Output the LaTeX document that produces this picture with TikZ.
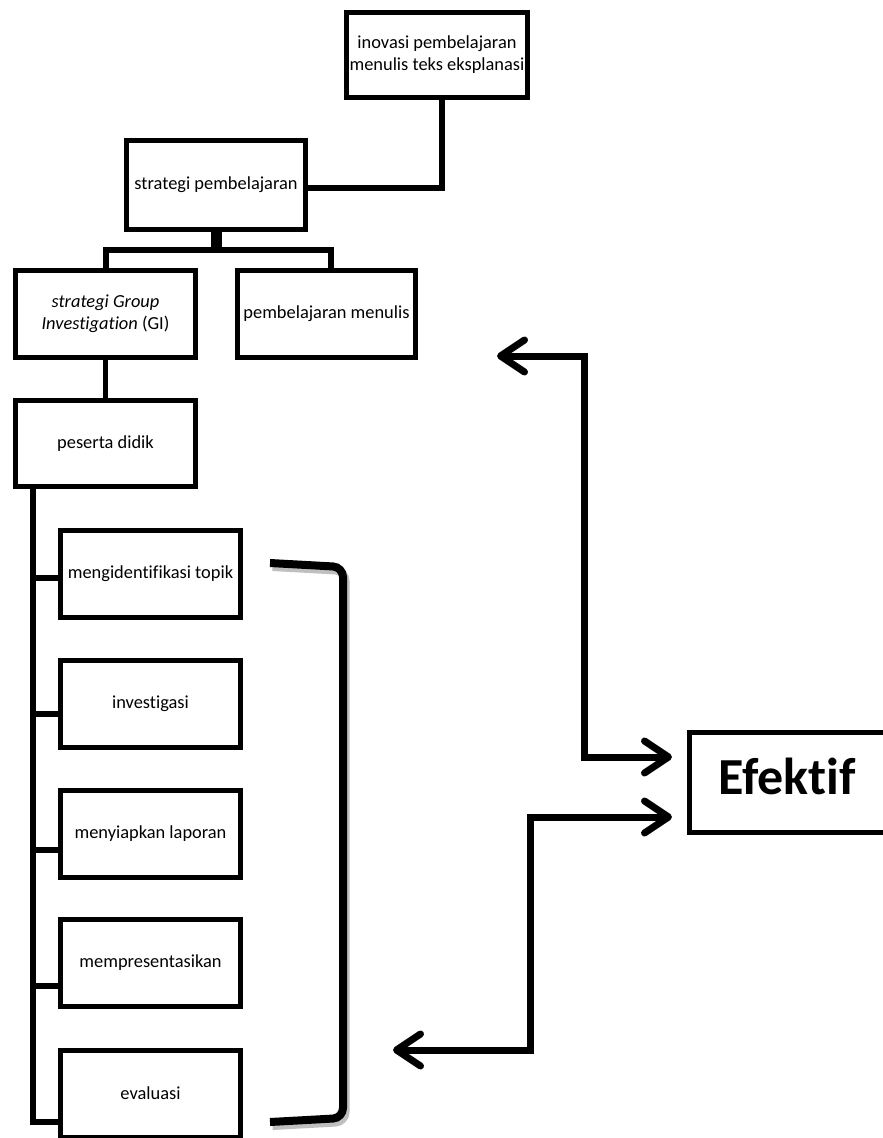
\documentclass[tikz,border=0pt]{standalone}
\usepackage{fontspec}
\setmainfont{Carlito}[Ligatures=NoCommon]
\usetikzlibrary{arrows.meta}
\begin{document}
\begin{tikzpicture}[x=1pt,y=-1pt,
  box/.style={draw, line width=5pt, inner sep=0pt, align=center,
    font=\fontsize{18.4}{22}\selectfont},
  conn/.style={line width=5.5pt},
  stem/.style={line width=11pt},
  arr/.style={line width=7pt, arrows={Straight Barb[length=24pt,width=32pt,round]-Straight Barb[length=24pt,width=32pt,round]}},
  brk/.style={line width=8pt, rounded corners=10pt},
]
\useasboundingbox (0,0) rectangle (883,1138);
\clip (0,0) rectangle (883,1138);
\fill[white] (0,0) rectangle (883,1138);

% boxes
\node[box, minimum width=181pt, minimum height=85pt] (inovasi) at (437,55) {inovasi pembelajaran\\menulis teks eksplanasi};
\node[box, minimum width=179pt, minimum height=89pt] (strategi) at (216,185) {strategi pembelajaran};
\node[box, minimum width=180pt, minimum height=87pt] (GI) at (105.5,314) {\textit{strategi Group}\\\textit{Investigation} (GI)};
\node[box, minimum width=178pt, minimum height=87pt] (menulis) at (326.5,314) {pembelajaran menulis};
\node[box, minimum width=180pt, minimum height=86pt] (peserta) at (105.5,443.5) {peserta didik};

\node[box, minimum width=180pt, minimum height=87pt] (s1) at (150.5,574) {mengidentifikasi topik};
\node[box, minimum width=180pt, minimum height=87pt] (s2) at (150.5,703.5) {investigasi};
\node[box, minimum width=180pt, minimum height=87pt] (s3) at (150.5,833.5) {menyiapkan laporan};
\node[box, minimum width=180pt, minimum height=87pt] (s4) at (150.5,963) {mempresentasikan};
\node[box, minimum width=180pt, minimum height=87pt] (s5) at (150.5,1093.5) {evaluasi};

\node[draw, line width=5.5pt, inner sep=0pt, minimum width=208pt, minimum height=100pt] (efbox) at (793.5,782.5) {};
\node[inner sep=0pt, font=\bfseries\fontsize{52}{60}\selectfont] (eftext) at (787,776) {Efektif};

% top connectors
\coordinate (j1) at (442,188);
\draw[conn] (inovasi.south -| j1) -- (j1) -- (j1 -| strategi.east);

\coordinate (bus) at (216,250);
\coordinate (busL) at (106,250);
\coordinate (busR) at (331,250);
\draw[stem] (strategi.south) -- (bus);
\draw[conn] (GI.north -| busL) -- (busL) -- (busR) -- (menulis.north -| busR);
\draw[conn] (GI.south) -- (peserta.north);

% trunk
\coordinate (b1) at (33,578);
\coordinate (b2) at (33,714);
\coordinate (b3) at (33,850);
\coordinate (b4) at (33,986);
\coordinate (b5) at (33,1122);
\draw[conn] (peserta.south -| b5) -- (b5) -- (b5 -| s5.west);
\draw[conn] (b1) -- (b1 -| s1.west);
\draw[conn] (b2) -- (b2 -| s2.west);
\draw[conn] (b3) -- (b3 -| s3.west);
\draw[conn] (b4) -- (b4 -| s4.west);

% bracket with shadow
\draw[brk, black!25] (272.5,567) -- (345.5,571) -- (345.5,1122) -- (272.5,1126);
\draw[brk] (270,563) -- (343,567) -- (343,1118) -- (270,1122);

% arrows to Efektif
\coordinate (t1) at (497,356);
\coordinate (k1) at (584,757);
\coordinate (e1) at (672,757);
\coordinate (t2) at (393,1050);
\coordinate (k2) at (530,817);
\coordinate (e2) at (672,817);
\draw[arr] (t1) -| (k1) -- (e1);
\draw[arr] (t2) -| (k2) -- (e2);
\end{tikzpicture}
\end{document}
